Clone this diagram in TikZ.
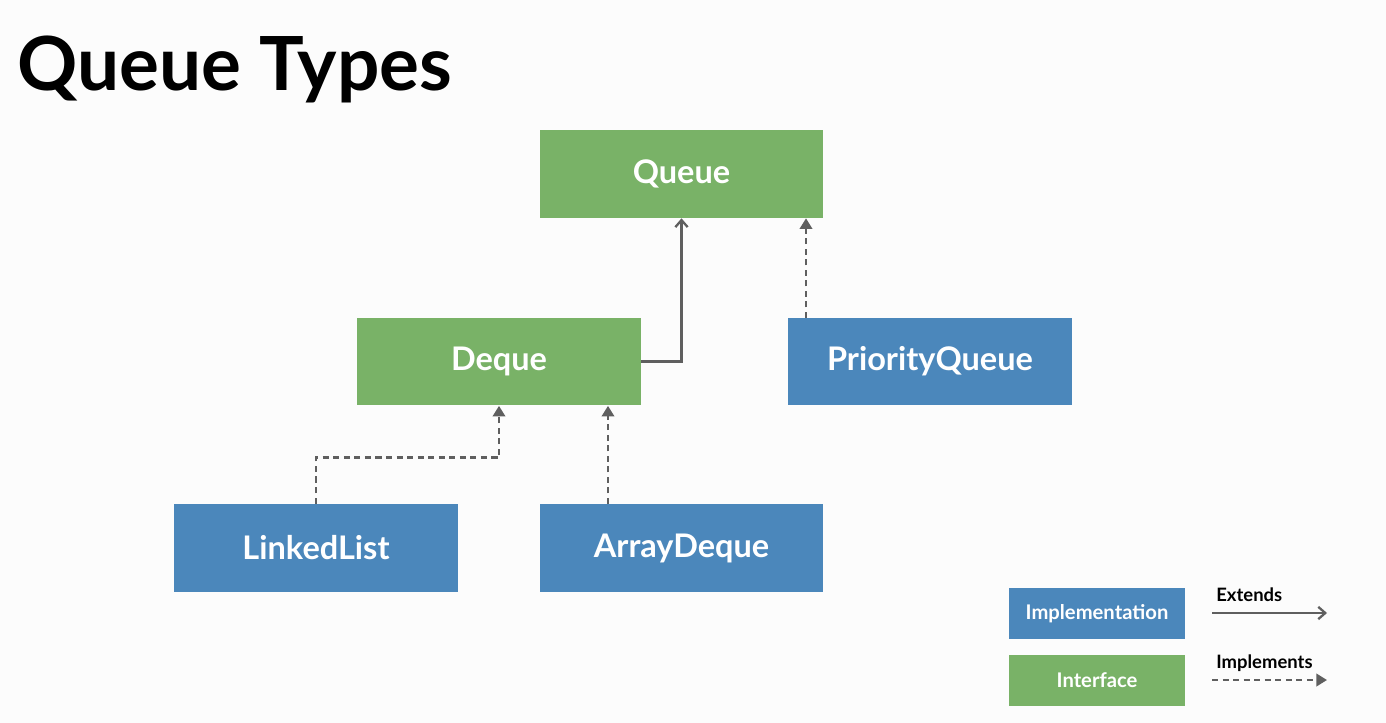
\documentclass[tikz,border=0pt]{standalone}
\usepackage{fontspec}
\setmainfont{Lato}
\usetikzlibrary{arrows.meta}

\definecolor{ifacegreen}{RGB}{121,178,103}
\definecolor{implblue}{RGB}{75,135,187}
\definecolor{linkgray}{RGB}{95,95,95}
\definecolor{pagebg}{RGB}{252,252,252}

\tikzset{
    box/.style={minimum width=5.68cm, minimum height=1.76cm, inner sep=0pt,
        text=white, font=\fontsize{18.5}{22}\selectfont\bfseries},
    iface/.style={box, fill=ifacegreen},
    impl/.style={box, fill=implblue},
    legbox/.style={minimum width=3.52cm, minimum height=1.02cm, inner sep=0pt,
        text=white, font=\fontsize{11.5}{14}\selectfont\bfseries},
    extends/.style={draw=linkgray, line width=1.3pt, -{Straight Barb[length=4pt,width=7pt]}},
    implements/.style={draw=linkgray, line width=1.4pt, dash pattern=on 3.5pt off 2.5pt,
        -{Triangle[length=6pt,width=7pt]}}
}

\begin{document}
\begin{tikzpicture}[x=0.02cm, y=-0.02cm]
            \fill[pagebg] (0,0) rectangle (1386,723);
            \useasboundingbox (0,0) rectangle (1386,723);

            \node[anchor=base west, inner sep=0pt, font=\fontsize{42.5}{46}\selectfont\bfseries] (title) at (17,91) {Queue Types};

            \node[iface] (queue) at (681.5,174) {Queue};
            \node[iface] (deque) at (499,361.5) {Deque};
            \node[impl] (pqueue) at (930,361.5) {PriorityQueue};
            \node[impl] (linkedlist) at (316,548) {LinkedList};
            \node[impl] (arraydeque) at (681.5,548) {ArrayDeque};

            % connectors
            \draw[extends] (deque.east) -| (queue.south);
            \coordinate (pqtop) at (806,318);
            \draw[implements] (pqtop) -- (pqtop |- queue.south);
            \draw[implements] (linkedlist.north) -- ++(0,-46) -| (deque.south);
            \coordinate (adtop) at (608,504);
            \draw[implements] (adtop) -- (adtop |- deque.south);

            % legend
            \node[legbox, fill=implblue] (legimpl) at (1097,613.5) {Implementation};
            \node[legbox, fill=ifacegreen] (legiface) at (1097,680) {Interface};
            \coordinate (extstart) at (1212,613);
            \coordinate (extend) at (1327,613);
            \draw[extends] (extstart) -- (extend);
            \node[anchor=base west, inner sep=0pt, font=\fontsize{10.5}{13}\selectfont\bfseries] (extlabel) at (1216,601) {Extends};
            \coordinate (impstart) at (1212,680);
            \coordinate (impend) at (1327,680);
            \draw[implements] (impstart) -- (impend);
            \node[anchor=base west, inner sep=0pt, font=\fontsize{10.5}{13}\selectfont\bfseries] (implabel) at (1216,668) {Implements};
      \end{tikzpicture}
\end{document}
